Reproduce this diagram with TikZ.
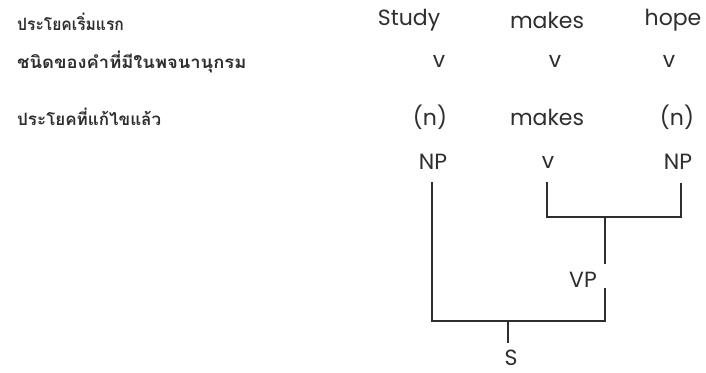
\documentclass[tikz,border=0pt]{standalone}
\usepackage{fontspec}
\setmainfont{Poppins}
\newfontfamily\thaifont[Script=Thai]{Loma}
\definecolor{ink}{HTML}{2E2E2E}
\begin{document}
\begin{tikzpicture}[x=1pt,y=-1pt,
  word/.style={inner sep=0pt,text=ink,font=\fontsize{22}{26}\selectfont},
  thai/.style={inner sep=0pt,anchor=west,text=ink,font=\thaifont\bfseries\fontsize{17}{20}\selectfont},
  branch/.style={draw=ink,line width=2.2pt,line cap=butt}]
\useasboundingbox[fill=white] (0,0) rectangle (706,372);
% left labels
\node[thai] (l1) at (17,22) {\scalebox{0.92}[1]{ประโยคเริ่มแรก}};
\node[thai] (l2) at (17,62) {\scalebox{1.08}[1]{ชนิดของคำที่มีในพจนานุกรม}};
\node[thai] (l3) at (17,117) {ประโยคที่แก้ไขแล้ว};
% first row
\node[word] (w1) at (409,20) {Study};
\node[word] (w2) at (547,20) {makes};
\node[word] (w3) at (673,20) {hope};
% dictionary categories
\node[word] (c1) at (439,61) {v};
\node[word] (c2) at (555,61) {v};
\node[word] (c3) at (669,61) {v};
% corrected sentence
\node[word] (r1) at (430,117) {(n)};
\node[word] (r2) at (547,117) {makes};
\node[word] (r3) at (677,117) {(n)};
% tree labels
\node[word] (np1) at (433,162) {NP};
\node[word] (vv) at (548,162) {v};
\node[word] (np2) at (678,162) {NP};
\node[word] (vp) at (583,280) {VP};
\node[word] (s) at (511,358) {S};
% tree coordinates
\coordinate (np1top) at (432,182);
\coordinate (vtop) at (547,182);
\coordinate (np2top) at (681,183);
\coordinate (vpjoin) at (605,217);
\coordinate (vpup) at (605,264);
\coordinate (vpdown) at (605,288);
\coordinate (sjoin) at (508,321);
\coordinate (sbot) at (508,343);
% branches
\draw[branch] (vtop) |- (vpjoin) -| (np2top);
\draw[branch] (vpjoin) -- (vpup);
\draw[branch] (np1top) |- (sjoin) -| (vpdown);
\draw[branch] (sjoin) -- (sbot);
\end{tikzpicture}
\end{document}
